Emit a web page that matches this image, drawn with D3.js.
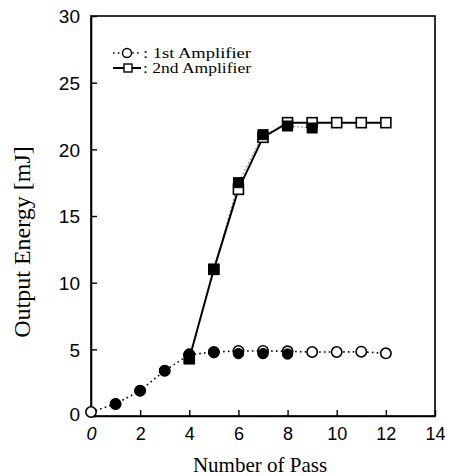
<!DOCTYPE html>
<html>
<head>
<meta charset="utf-8">
<script src="https://cdn.jsdelivr.net/npm/d3@7"></script>
<style>
  body { margin: 0; background: #fff; }
  svg { display: block; }
</style>
</head>
<body>
<div id="chart"></div>
<script>
// number of passes
const passes = [0, 1, 2, 3, 4, 5, 6, 7, 8, 9, 10, 11, 12];
// 1st amplifier, open circles (dotted line)
const amp1Open = [0.3, 0.9, 1.9, 3.4, 4.6, 4.8, 4.88, 4.88, 4.85, 4.8, 4.8, 4.82, 4.7];
// 1st amplifier, filled circles
const amp1FilledPass = [1, 2, 3, 4, 5, 6, 7, 8];
const amp1Filled = [0.9, 1.9, 3.4, 4.65, 4.75, 4.68, 4.68, 4.65];
// 2nd amplifier, open squares (solid line)
const amp2Pass = [4, 5, 6, 7, 8, 9, 10, 11, 12];
const amp2Open = [4.3, 11.0, 17.0, 20.9, 22.0, 22.0, 22.0, 22.0, 22.0];
// 2nd amplifier, filled squares
const amp2FilledPass = [4, 5, 6, 7, 8, 9];
const amp2Filled = [4.3, 11.0, 17.5, 21.1, 21.75, 21.6];

const xTicks = [0, 2, 4, 6, 8, 10, 12, 14];
const yTicks = [0, 5, 10, 15, 20, 25, 30];
const legendLabels = [': 1st Amplifier', ': 2nd Amplifier'];

const width = 450, height = 476;
const margin = { top: 16, right: 15, bottom: 60, left: 91 };

const svg = d3.select('#chart')
  .append('svg')
  .attr('width', width)
  .attr('height', height);

const x = d3.scaleLinear().domain([0, 14]).range([margin.left, width - margin.right]);
const y = d3.scaleLinear().domain([0, 30]).range([height - margin.bottom, margin.top]);

const sans = 'Liberation Sans, Arial, sans-serif';
const serif = 'Liberation Serif, Times New Roman, serif';

// frame
svg.append('rect')
  .attr('x', x(0))
  .attr('y', y(30))
  .attr('width', x(14) - x(0))
  .attr('height', y(0) - y(30))
  .attr('fill', 'none')
  .attr('stroke', '#000')
  .attr('stroke-width', 1.6);

// axes with inward ticks
const xAxis = svg.append('g')
  .attr('transform', `translate(0,${y(0)})`)
  .call(d3.axisBottom(x).tickValues(xTicks).tickSizeInner(-6).tickSizeOuter(0).tickPadding(11));
const yAxis = svg.append('g')
  .attr('transform', `translate(${x(0)},0)`)
  .call(d3.axisLeft(y).tickValues(yTicks).tickSizeInner(-6).tickSizeOuter(0).tickPadding(11));

[xAxis, yAxis].forEach(function(g) {
  g.select('.domain').attr('stroke', '#000').attr('stroke-width', 1.6);
  g.selectAll('.tick line').attr('stroke', '#000').attr('stroke-width', 1.4);
  g.selectAll('.tick text')
    .attr('fill', '#000')
    .style('font-family', sans);
});
xAxis.selectAll('.tick text').style('font-size', '18px');
xAxis.selectAll('.tick')
  .filter(d => d === 0)
  .select('text')
  .style('font-style', 'italic');
yAxis.selectAll('.tick text').style('font-size', '19px').attr('dy', '0.36em');
yAxis.selectAll('.tick')
  .filter(d => d === 0)
  .select('text')
  .attr('dy', '0.22em');

// lines
const line = d3.line().x(d => x(d[0])).y(d => y(d[1]));

svg.append('path')
  .datum(passes.map((p, i) => [p, amp1Open[i]]))
  .attr('d', line)
  .attr('fill', 'none')
  .attr('stroke', '#000')
  .attr('stroke-width', 1.6)
  .attr('stroke-dasharray', '1.6,3.2');

svg.append('path')
  .datum(amp2FilledPass.map((p, i) => [p, amp2Filled[i]]))
  .attr('d', line)
  .attr('fill', 'none')
  .attr('stroke', '#777')
  .attr('stroke-width', 1)
  .attr('stroke-dasharray', '2,2');

svg.append('path')
  .datum(amp2Pass.map((p, i) => [p, amp2Open[i]]))
  .attr('d', line)
  .attr('fill', 'none')
  .attr('stroke', '#000')
  .attr('stroke-width', 2);

// markers
const r = 5.2, s = 10;

svg.append('g').selectAll('circle')
  .data(passes.map((p, i) => [p, amp1Open[i]]))
  .join('circle')
  .attr('cx', d => x(d[0]))
  .attr('cy', d => y(d[1]))
  .attr('r', r)
  .attr('fill', '#fff')
  .attr('stroke', '#000')
  .attr('stroke-width', 1.6);

svg.append('g').selectAll('circle')
  .data(amp1FilledPass.map((p, i) => [p, amp1Filled[i]]))
  .join('circle')
  .attr('cx', d => x(d[0]))
  .attr('cy', d => y(d[1]))
  .attr('r', r)
  .attr('fill', '#000')
  .attr('stroke', '#000')
  .attr('stroke-width', 1);

svg.append('g').selectAll('rect')
  .data(amp2Pass.map((p, i) => [p, amp2Open[i]]))
  .join('rect')
  .attr('x', d => x(d[0]) - s / 2)
  .attr('y', d => y(d[1]) - s / 2)
  .attr('width', s)
  .attr('height', s)
  .attr('fill', '#fff')
  .attr('stroke', '#000')
  .attr('stroke-width', 1.6);

svg.append('g').selectAll('rect')
  .data(amp2FilledPass.map((p, i) => [p, amp2Filled[i]]))
  .join('rect')
  .attr('x', d => x(d[0]) - s / 2)
  .attr('y', d => y(d[1]) - s / 2)
  .attr('width', s)
  .attr('height', s)
  .attr('fill', '#000')
  .attr('stroke', '#000')
  .attr('stroke-width', 1);

// legend
const legend = svg.append('g').attr('transform', 'translate(113,53)');
legend.append('line')
  .attr('x1', 0).attr('x2', 28).attr('y1', 0).attr('y2', 0)
  .attr('stroke', '#000').attr('stroke-width', 1.6).attr('stroke-dasharray', '1.6,3.2');
legend.append('circle')
  .attr('cx', 14).attr('cy', 0).attr('r', 4.5)
  .attr('fill', '#fff').attr('stroke', '#000').attr('stroke-width', 1.4);
legend.append('line')
  .attr('x1', 0).attr('x2', 28).attr('y1', 15).attr('y2', 15)
  .attr('stroke', '#000').attr('stroke-width', 2);
legend.append('rect')
  .attr('x', 11).attr('y', 11).attr('width', 8).attr('height', 8)
  .attr('fill', '#fff').attr('stroke', '#000').attr('stroke-width', 1.4);
legend.selectAll('text')
  .data(legendLabels)
  .join('text')
  .attr('x', 30)
  .attr('y', (d, i) => 4.5 + i * 15)
  .attr('textLength', 108)
  .attr('lengthAdjust', 'spacingAndGlyphs')
  .style('font-family', serif)
  .style('font-size', '14px')
  .text(d => d);

// axis titles
svg.append('text')
  .attr('x', 260)
  .attr('y', 472)
  .attr('text-anchor', 'middle')
  .style('font-family', serif)
  .style('font-size', '21px')
  .text('Number of Pass');

svg.append('text')
  .attr('transform', 'translate(30,242) rotate(-90)')
  .attr('text-anchor', 'middle')
  .style('font-family', serif)
  .style('font-size', '24px')
  .text('Output Energy [mJ]');
</script>
</body>
</html>
